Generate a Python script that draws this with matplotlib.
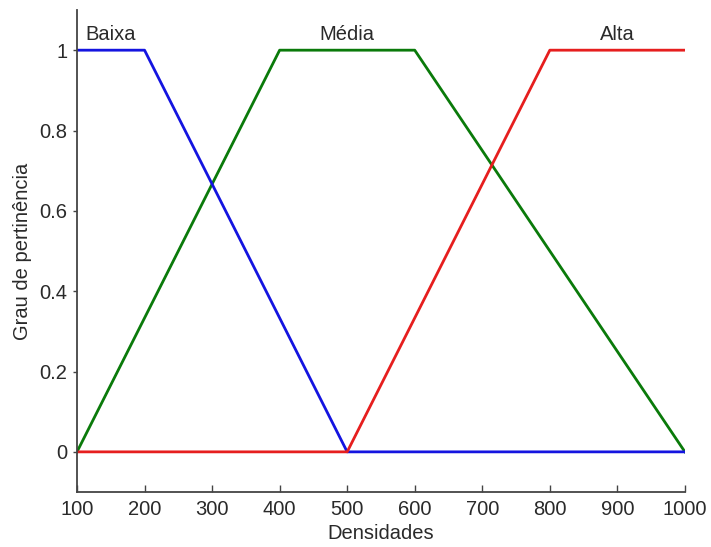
import numpy as np
import matplotlib
matplotlib.use('Agg')
import matplotlib.pyplot as plt

plt.rcParams['font.family'] = ['Liberation Sans', 'DejaVu Sans']

# membership functions (trapezoids)
x_baixa = [100, 200, 500, 1000]
y_baixa = [1, 1, 0, 0]
x_media = [100, 400, 600, 1000]
y_media = [0, 1, 1, 0]
x_alta = [100, 500, 800, 1000]
y_alta = [0, 0, 1, 1]

labels = ['Baixa', 'Média', 'Alta']
label_x = [150, 500, 900]
label_y = 1.04

xticks = [100, 200, 300, 400, 500, 600, 700, 800, 900, 1000]
yticks = [0, 0.2, 0.4, 0.6, 0.8, 1]
yticklabels = ['0', '0.2', '0.4', '0.6', '0.8', '1']

FS = 14.5
TXT = '#2a2a2a'

fig = plt.figure(figsize=(7.11, 5.47), dpi=100)
ax = fig.add_axes([0.1083, 0.1005, 0.855, 0.8812])

ax.plot(x_media, y_media, color='#0a7a0a', linewidth=2.0)
ax.plot(x_baixa, y_baixa, color='#1414e0', linewidth=2.0)
ax.plot(x_alta, y_alta, color='#e61e1e', linewidth=2.0)

for lab, lx in zip(labels, label_x):
    ax.text(lx, label_y, lab, ha='center', va='center', fontsize=FS, color=TXT)

ax.set_xlim(100, 1000)
ax.set_ylim(-0.1, 1.1)
ax.set_xticks(xticks)
ax.set_yticks(yticks)
ax.set_yticklabels(yticklabels)

ax.spines['top'].set_visible(False)
ax.spines['right'].set_visible(False)
for s in ['left', 'bottom']:
    ax.spines[s].set_color('#444444')
    ax.spines[s].set_linewidth(1.3)

ax.tick_params(axis='x', direction='in', length=5, width=1, colors='#444444',
               labelcolor=TXT, labelsize=FS, pad=6)
ax.tick_params(axis='y', direction='out', length=3, width=1, colors='#444444',
               labelcolor=TXT, labelsize=FS, pad=4)

ax.set_xlabel('Densidades', fontsize=FS, color=TXT, labelpad=3)
ax.set_ylabel('Grau de pertinência', fontsize=FS, color=TXT, labelpad=5)

fig.savefig('out.png', dpi=100)
